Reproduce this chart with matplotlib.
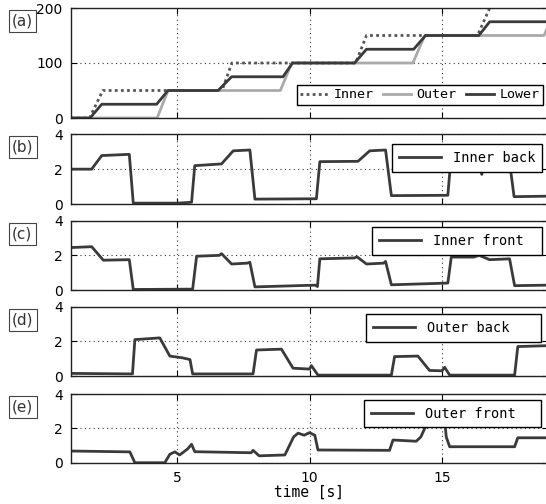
import matplotlib
matplotlib.use('Agg')
import matplotlib.pyplot as plt

# ---- data (time [s], value) ----
inner_t = [1.0, 1.7, 2.2, 6.7, 7.07, 11.74, 12.15, 16.34, 16.8, 17.3]
inner_v = [0, 0, 50, 50, 100, 100, 150, 150, 200, 250]
outer_t = [1.0, 4.25, 4.66, 8.9, 9.33, 13.9, 14.35, 18.85, 19.3]
outer_v = [0, 0, 50, 50, 100, 100, 150, 150, 200]
lower_t = [1.0, 1.72, 2.16, 4.23, 4.66, 6.55, 7.06, 9.0, 9.36, 11.7, 12.15, 13.93, 14.38, 16.39, 16.8, 19.0]
lower_v = [0, 0, 25, 25, 50, 50, 75, 75, 100, 100, 125, 125, 150, 150, 175, 175]

inner_back_t = [1.0, 1.78, 2.16, 3.2, 3.35, 5.0, 5.55, 5.67, 6.68, 7.12, 7.75, 7.94,
                10.26, 10.39, 11.83, 12.27, 12.87, 13.09, 15.22, 15.32, 16.4, 16.5, 16.6,
                17.55, 17.72, 19.0]
inner_back_v = [2.0, 2.0, 2.78, 2.85, 0.05, 0.05, 0.1, 2.2, 2.3, 3.05, 3.1, 0.28,
                0.3, 2.43, 2.45, 3.05, 3.1, 0.48, 0.5, 2.3, 2.35, 1.7, 2.4,
                2.4, 0.42, 0.45]
inner_front_t = [1.0, 1.78, 2.22, 3.2, 3.35, 5.59, 5.74, 6.6, 6.68, 7.06, 7.65, 7.75, 7.94,
                 10.22, 10.3, 10.39, 11.7, 11.79, 12.15, 12.8, 12.87, 13.09, 15.22, 15.35,
                 16.2, 16.4, 16.8, 17.55, 17.74, 19.0]
inner_front_v = [2.45, 2.5, 1.72, 1.75, 0.03, 0.05, 1.95, 2.0, 2.1, 1.5, 1.55, 1.6, 0.18,
                 0.28, 0.2, 1.8, 1.85, 1.92, 1.5, 1.55, 1.65, 0.3, 0.4, 1.9,
                 1.9, 2.0, 1.75, 1.8, 0.25, 0.28]
outer_back_t = [1.0, 3.32, 3.41, 4.35, 4.73, 5.2, 5.49, 5.59, 7.87, 8.0, 8.94, 9.38,
                10.0, 10.07, 10.32, 13.09, 13.21, 14.09, 14.53, 15.0, 15.1, 15.29,
                17.74, 17.86, 19.0]
outer_back_v = [0.15, 0.12, 2.1, 2.2, 1.15, 1.05, 0.95, 0.12, 0.12, 1.5, 1.55, 0.45,
                0.4, 0.6, 0.05, 0.05, 1.12, 1.15, 0.32, 0.3, 0.5, 0.05,
                0.05, 1.7, 1.75]
outer_front_t = [1.0, 3.22, 3.41, 4.54, 4.73, 4.92, 5.1, 5.4, 5.55, 5.67, 7.8, 7.87, 8.1,
                 9.07, 9.4, 9.57, 9.8, 10.0, 10.2, 10.32, 13.02, 13.15, 14.03, 14.2,
                 14.5, 15.1, 15.16, 15.29, 17.74, 17.86, 19.0]
outer_front_v = [0.68, 0.63, 0.0, 0.0, 0.49, 0.63, 0.45, 0.8, 1.07, 0.64, 0.58, 0.72, 0.4,
                 0.45, 1.5, 1.72, 1.6, 1.75, 1.6, 0.74, 0.72, 1.32, 1.25, 1.5,
                 2.5, 2.5, 1.5, 0.93, 0.93, 1.45, 1.45]

panel_labels = ['(a)', '(b)', '(c)', '(d)', '(e)']
signal_names = ['Inner back', 'Inner front', 'Outer back', 'Outer front']

W, H = 546, 504
fig = plt.figure(figsize=(W / 100, H / 100), dpi=100)

# axes boxes in pixels: (top, bottom)
boxes = [(8, 118), (134.3, 204), (220.7, 290), (306.7, 376), (394, 462.7)]
x0, x1 = 71, 548

mono = 'DejaVu Sans Mono'
dark = '#3a3a3a'

axes = []
for top, bot in boxes:
    ax = fig.add_axes([x0 / W, 1 - bot / H, (x1 - x0) / W, (bot - top) / H])
    axes.append(ax)

signals = [(inner_back_t, inner_back_v), (inner_front_t, inner_front_v),
           (outer_back_t, outer_back_v), (outer_front_t, outer_front_v)]


def box_legend(ax, left, top, right, bottom, **kw):
    leg = ax.legend(loc='upper left', mode='expand',
                    bbox_to_anchor=(left / W, 1 - bottom / H, (right - left) / W, (bottom - top) / H),
                    bbox_transform=fig.transFigure, borderaxespad=0,
                    fancybox=False, framealpha=1, edgecolor='black', **kw)
    leg.get_frame().set_linewidth(1.0)
    return leg


# panel (a)
ax = axes[0]
ax.plot(inner_t, inner_v, color='#555555', lw=2, ls=(0, (1, 1.2)), label='Inner')
ax.plot(outer_t, outer_v, color='#aaaaaa', lw=2, label='Outer')
ax.plot(lower_t, lower_v, color=dark, lw=2, label='Lower')
ax.set_ylim(0, 200)
ax.set_yticks([0, 100, 200])
box_legend(ax, 297, 85, 543, 106.7, ncol=3, prop={'family': mono, 'size': 9.6},
           handlelength=2.1, handletextpad=0.4, columnspacing=0.4, borderpad=0.25)

legend_box = [(392, 144.3, 542), (372, 227.3, 541.7), (366, 314, 540.7), (364, 399.7, 540.7)]
for ax, (t, v), name, (lx, ly, rx) in zip(axes[1:], signals, signal_names, legend_box):
    ax.plot(t, v, color=dark, lw=2, label=name)
    ax.set_ylim(0, 4)
    ax.set_yticks([0, 2, 4])
    box_legend(ax, lx, ly, rx, ly + 28.5, prop={'family': mono, 'size': 9.8},
               handlelength=3.1, handletextpad=0.85, borderpad=0.5)

for i, ax in enumerate(axes):
    ax.set_xlim(1, 19)
    ax.set_xticks([5, 10, 15])
    ax.grid(True, ls=(0, (1, 3)), color='#333333', lw=0.8)
    ax.tick_params(direction='in', top=True, right=True, length=4, width=0.8,
                   labelsize=10, pad=6)
    for lab in ax.get_yticklabels() + ax.get_xticklabels():
        lab.set_fontfamily('DejaVu Sans')
    for s in ax.spines.values():
        s.set_linewidth(1.0)
        s.set_color('#222222')
    if i < 4:
        ax.set_xticklabels([])
    top = boxes[i][0]
    fig.text(12 / W, 1 - (top + 13) / H, panel_labels[i], fontsize=11,
             family='DejaVu Sans', va='center', ha='left', color='#333333',
             bbox=dict(boxstyle='square,pad=0.22', fc='white', ec='#444444', lw=0.8))

axes[-1].set_xlabel('time [s]', family=mono, fontsize=10.5, labelpad=0)

fig.savefig('out.png', dpi=100)
